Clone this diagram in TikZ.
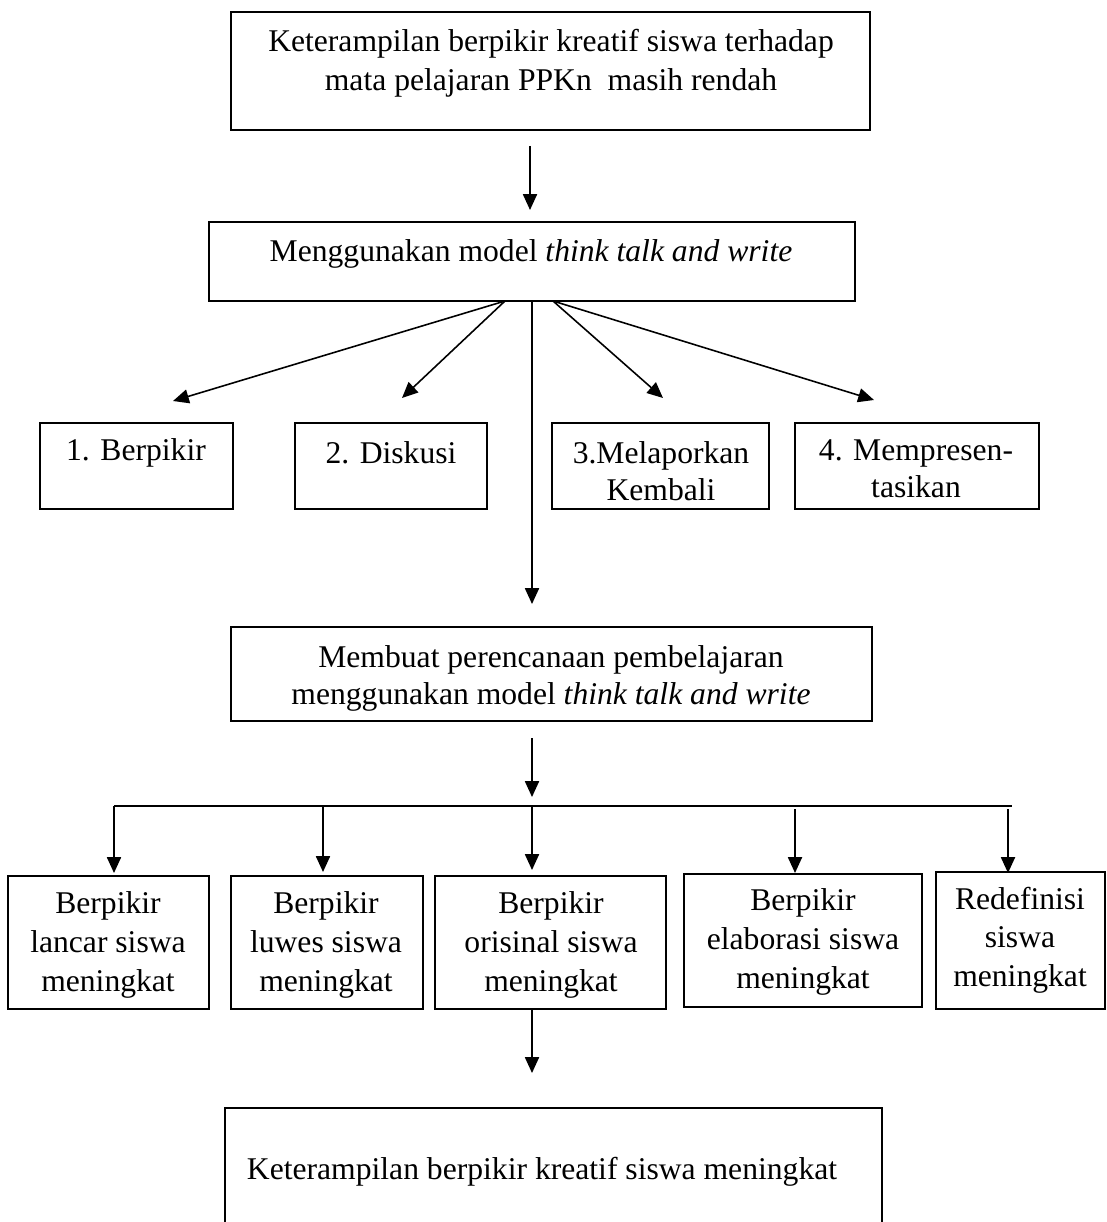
\documentclass[tikz,border=0pt]{standalone}
\usepackage{fontspec}
\setmainfont{Liberation Serif}
\usetikzlibrary{arrows.meta,fit}
\begin{document}
\begin{tikzpicture}[x=0.02cm,y=-0.02cm,
  box/.style={draw,line width=1.1pt,inner sep=0pt},
  txt/.style={inner sep=0pt,align=center,font=\fontsize{18}{22}\selectfont},
  txtb/.style={inner sep=0pt,align=center,font=\fontsize{18}{21}\selectfont},
  arr/.style={line width=0.9pt,-{Triangle[length=9pt,width=8pt]}},
  ln/.style={line width=0.9pt}]
\useasboundingbox (0,0) rectangle (1106,1222);
\clip (0,0) rectangle (1106,1222);

% boxes
\node[box,fit={(231,12) (870,130)}] (top) {};
\node[box,fit={(209,222) (855,301)}] (mid) {};
\node[box,fit={(40,423) (233,509)}] (s1) {};
\node[box,fit={(295,423) (487,509)}] (s2) {};
\node[box,fit={(552,423) (769,509)}] (s3) {};
\node[box,fit={(795,423) (1039,509)}] (s4) {};
\node[box,fit={(231,627) (872,721)}] (plan) {};
\node[box,fit={(8,876) (209,1009)}] (b1) {};
\node[box,fit={(231,876) (423,1009)}] (b2) {};
\node[box,fit={(435,876) (666,1009)}] (b3) {};
\node[box,fit={(684,874) (922,1007)}] (b4) {};
\node[box,fit={(936,872) (1105,1009)}] (b5) {};
\node[box,fit={(225,1108) (882,1260)}] (final) {};

% texts
\node[txt] (ttop) at (551,63) {Keterampilan berpikir kreatif siswa terhadap\\mata pelajaran PPKn~ masih rendah};
\node[txt] (tmid) at (531,254) {Menggunakan model \textit{think talk and write}};
\node[txt] (ts1) at (136,453) {1. Berpikir};
\node[txt] (ts2) at (391,453) {2. Diskusi};
\node[txtb] (ts3) at (661,471) {3.Melaporkan\\Kembali};
\node[txtb] (ts4) at (916,469) {4. Mempresen-\\tasikan};
\node[txtb] (tplan) at (551,678) {Membuat perencanaan pembelajaran\\menggunakan model \textit{think talk and write}};
\node[txt] (tb1) at (108,945) {Berpikir\\lancar siswa\\meningkat};
\node[txt] (tb2) at (326,945) {Berpikir\\luwes siswa\\meningkat};
\node[txt] (tb3) at (551,945) {Berpikir\\orisinal siswa\\meningkat};
\node[txt] (tb4) at (803,942) {Berpikir\\elaborasi siswa\\meningkat};
\node[txt] (tb5) at (1020,940) {Redefinisi\\siswa\\meningkat};
\node[txt] (tfinal) at (542,1172) {Keterampilan berpikir kreatif siswa meningkat};

% free ends of connectors
\coordinate (a1s) at (530,146);
\coordinate (a1e) at (530,210);
\coordinate (f1s) at (505,301);
\coordinate (f2s) at (505,301);
\coordinate (f3s) at (553,301);
\coordinate (f4s) at (553,301);
\coordinate (vs) at (532,301);
\coordinate (f1e) at (173,401);
\coordinate (f2e) at (402,398);
\coordinate (f3e) at (663,398);
\coordinate (f4e) at (874,400);
\coordinate (ve) at (532,604);
\coordinate (p1s) at (532,738);
\coordinate (p1e) at (532,797);
\coordinate (hl) at (114,806);
\coordinate (hr) at (1012,806);
\coordinate (d1s) at (114,806);
\coordinate (d2s) at (323,806);
\coordinate (d3s) at (532,806);
\coordinate (d4s) at (795,809);
\coordinate (d5s) at (1008,809);
\coordinate (d1e) at (114,873);
\coordinate (d2e) at (323,872);
\coordinate (d3e) at (532,870);
\coordinate (d4e) at (795,873);
\coordinate (d5e) at (1008,873);
\coordinate (l1s) at (532,1009);
\coordinate (l1e) at (532,1073);

% connectors
\draw[arr] (a1s) -- (a1e);
\draw[arr] (f1s) -- (f1e);
\draw[arr] (f2s) -- (f2e);
\draw[arr] (f3s) -- (f3e);
\draw[arr] (f4s) -- (f4e);
\draw[arr] (vs) -- (ve);
\draw[arr] (p1s) -- (p1e);
\draw[ln] (hl) -- (hr);
\draw[arr] (d1s) -- (d1e);
\draw[arr] (d2s) -- (d2e);
\draw[arr] (d3s) -- (d3e);
\draw[arr] (d4s) -- (d4e);
\draw[arr] (d5s) -- (d5e);
\draw[arr] (l1s) -- (l1e);
\end{tikzpicture}
\end{document}
